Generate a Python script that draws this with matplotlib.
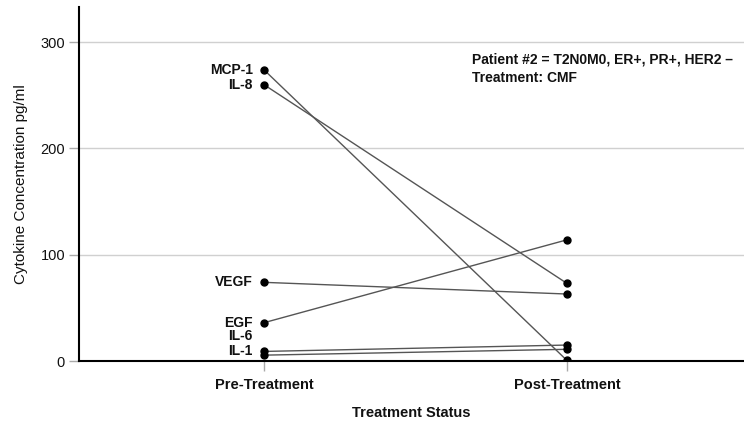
import matplotlib
matplotlib.use("Agg")
import matplotlib.pyplot as plt

plt.rcParams['font.family'] = ['Liberation Sans', 'DejaVu Sans']

cytokines = ["MCP-1", "IL-8", "VEGF", "EGF", "IL-6", "IL-1"]
pre_values = [274, 260, 74, 36, 9, 5.5]
post_values = [0.5, 73, 63, 114, 15, 11]
x_labels = ["Pre-Treatment", "Post-Treatment"]
y_ticks = [0, 100, 200, 300]
# label vertical offsets in points (layout only)
label_dy = [0, 0, 0, 0, 11, 3]

fig = plt.figure(figsize=(7.44, 4.23), dpi=100)
ax = fig.add_axes([79/744, 1-361/423, (744-79)/744, (361-7)/423])

for name, a, b in zip(cytokines, pre_values, post_values):
    ax.plot([0, 1], [a, b], color='#555555', lw=1.0, zorder=3)
    ax.plot([0, 1], [a, b], 'o', color='black', ms=5, zorder=4)

for name, a, dy in zip(cytokines, pre_values, label_dy):
    ax.annotate(name, (0, a), xytext=(-8, dy * 1.0), textcoords='offset points',
                ha='right', va='center', fontsize=10, fontweight='bold', color='#111111')

ax.set_xlim(-0.61, 1.584)
ax.set_ylim(0, 333)
ax.set_xticks([0, 1])
ax.set_xticklabels(x_labels, fontsize=10.5, fontweight='bold', color='#111111')
ax.set_yticks(y_ticks)
ax.set_yticklabels([str(t) for t in y_ticks], fontsize=10.5, color='#111111')
ax.tick_params(axis='both', direction='out', length=7, color='#aaaaaa', width=1)
ax.tick_params(axis='x', pad=5)
ax.tick_params(axis='y', pad=3)

ax.grid(axis='y', color='#d0d0d0', lw=1)
ax.set_axisbelow(True)
for s in ['top', 'right']:
    ax.spines[s].set_visible(False)
ax.spines['left'].set_linewidth(1.5)
ax.spines['bottom'].set_linewidth(1.5)

ax.set_ylabel("Cytokine Concentration pg/ml", fontsize=11, color='#111111', labelpad=9)
ax.set_xlabel("Treatment Status", fontsize=10.5, fontweight='bold', color='#111111', labelpad=10)

ax.text(472/744, 1-69/423, "Patient #2 = T2N0M0, ER+, PR+, HER2 \u2013\nTreatment: CMF",
        transform=fig.transFigure, ha='left', va='center', fontsize=10,
        fontweight='bold', color='#111111', linespacing=1.45)

fig.savefig("out.png", dpi=100)
